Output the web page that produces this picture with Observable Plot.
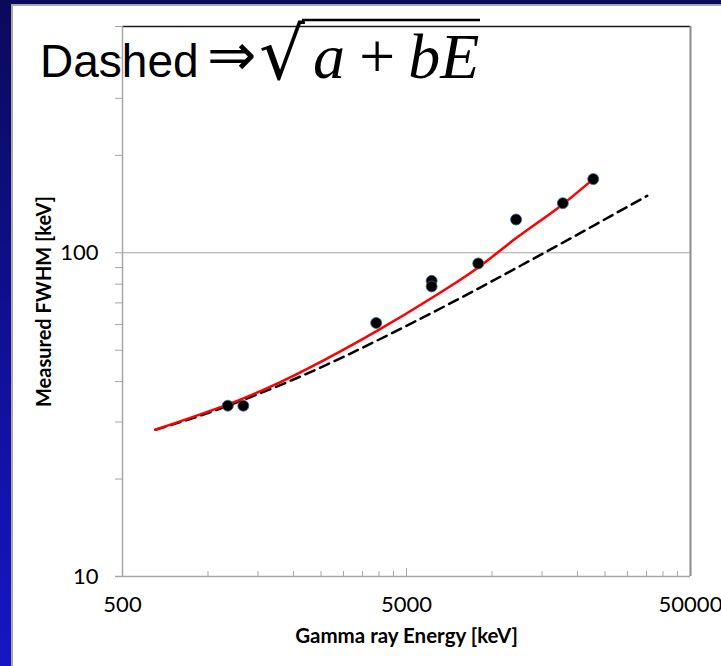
<!DOCTYPE html>
<html>
<head>
<meta charset="utf-8">
<script src="https://cdn.jsdelivr.net/npm/d3@7"></script>
<script src="https://cdn.jsdelivr.net/npm/@observablehq/plot@0.6"></script>
<style>
  html, body { margin: 0; padding: 0; }
  body { width: 721px; height: 666px; overflow: hidden;
         background: linear-gradient(to bottom, #0a0a5a 0%, #10109a 55%, #1616c6 100%); }
  #slide { position: relative; width: 721px; height: 666px; }
  #panel { position: absolute; left: 11px; top: 4px; right: 0; bottom: 0;
           background: #fff; border-left: 2px solid #a8a8a8; border-top: 2px solid #a8a8a8; }
  #chart { position: absolute; left: 0; top: 0; }
  #formula { position: absolute; left: 0; top: 0; pointer-events: none; }
</style>
</head>
<body>
<div id="slide">
  <div id="panel"></div>
  <div id="chart"></div>
  <svg id="formula" width="721" height="666">
    <text x="40" y="77" font-family="Liberation Sans, Arial, sans-serif" font-size="46">Dashed</text>
    <text x="207" y="75" font-family="DejaVu Sans, sans-serif" font-size="59">⇒</text>
    <text x="259" y="79" font-family="DejaVu Serif, serif" font-size="72">√</text>
    <line x1="302" x2="480" y1="20" y2="20" stroke="#000" stroke-width="2.5"></line>
    <text x="313" y="78" font-family="Liberation Serif, serif" font-style="italic" font-size="64" word-spacing="-6">a + bE</text>
  </svg>
</div>
<script>
// Measured peak widths (FWHM) at each gamma-ray energy
const energy = [1174, 1332, 3910, 6130, 6130, 8945, 12160, 17760, 22720];
const fwhm   = [33.7, 33.7, 60.7, 81.9, 78.7, 92.7, 126.7, 142.3, 168.9];

// Red fitted curve
const fitEnergy = [653, 1174, 1332, 3910, 6130, 8945, 12160, 17760, 22720];
const fitFwhm   = [28.4, 34.0, 35.5, 57.2, 72.5, 90.1, 111.0, 141.3, 168.9];

// Dashed curve, sqrt(a + bE)
const sqrtEnergy = [653, 1000, 1500, 2000, 3000, 5000, 7000, 10000, 15000, 20000, 25000, 30000, 35200];
const sqrtFwhm   = [28.4, 32.0, 36.6, 40.6, 47.7, 59.5, 69.2, 81.7, 99.1, 113.8, 126.9, 138.7, 150.0];

// Axis ticks
const xLabels = [500, 5000, 50000];
const xMinor  = [1000, 1500, 2000, 2500, 3000, 3500, 4000, 4500,
                 10000, 15000, 20000, 25000, 30000, 35000, 40000, 45000];
const xMid    = [5000];
const yLabels = [10, 100];
const yMinor  = [20, 30, 40, 50, 60, 70, 80, 90, 200, 300, 400, 500];

const points = energy.map((e, i) => ({e, f: fwhm[i]}));
const fit = fitEnergy.map((e, i) => ({e, f: fitFwhm[i]}));
const sqrtCurve = sqrtEnergy.map((e, i) => ({e, f: sqrtFwhm[i]}));

const axisGray = "#a6a6a6";

const chart = Plot.plot({
  width: 721,
  height: 666,
  marginLeft: 122,
  marginRight: 31,
  marginTop: 26,
  marginBottom: 90,
  x: {type: "log", domain: [500, 50000]},
  y: {type: "log", domain: [10, 500]},
  style: {background: "transparent", fontFamily: "Lato, 'Open Sans', sans-serif", overflow: "visible"},
  marks: [
    // grid line and frame
    Plot.ruleY([100], {stroke: axisGray, strokeWidth: 1}),
    Plot.ruleY([500], {stroke: "#1a1a1a", strokeWidth: 1.5}),
    Plot.ruleX([50000], {stroke: "#8c8c8c", strokeWidth: 2}),
    Plot.ruleX([500], {stroke: axisGray, strokeWidth: 1.5}),
    Plot.ruleY([10], {stroke: axisGray, strokeWidth: 1.5, x1: 500, x2: 50000, insetLeft: -7}),

    // y axis
    Plot.axisY(yMinor, {tickSize: 7, tickFormat: () => "", stroke: axisGray, label: null}),
    Plot.axisY(yLabels, {tickSize: 7, tickPadding: 17, fontSize: 22, fill: "#000",
                         stroke: axisGray, tickFormat: d => String(d), label: null}),

    // x axis: inward minor ticks, a longer one at 5000, labels below
    Plot.axisX(xMinor, {tickSize: 5, dy: -5, tickFormat: () => "", stroke: axisGray, label: null}),
    Plot.axisX(xMid, {tickSize: 8, dy: -8, tickFormat: () => "", stroke: axisGray, label: null}),
    Plot.text(xLabels, {x: d => d, text: d => String(d), frameAnchor: "bottom", dy: 35,
                        fontSize: 22, fill: "#000"}),

    // axis titles
    Plot.text(["Measured FWHM [keV]"], {frameAnchor: "left", dx: -78, rotate: -90, textAnchor: "middle",
                                         fontSize: 20, fontWeight: "bold", fill: "#000"}),
    Plot.text(["Gamma ray Energy [keV]"], {frameAnchor: "bottom", dy: 66, textAnchor: "middle",
                                            fontSize: 20.5, fontWeight: "bold", fill: "#000"}),

    // curves and measurements
    Plot.line(sqrtCurve, {x: "e", y: "f", stroke: "#000", strokeWidth: 2.5,
                          strokeDasharray: "10,6", curve: "monotone-x"}),
    Plot.line(fit, {x: "e", y: "f", stroke: "#ff0000", strokeWidth: 2.5, curve: "monotone-x"}),
    Plot.dot(points, {x: "e", y: "f", r: 5.5, fill: "#000", stroke: "#3d6491", strokeWidth: 0.8})
  ]
});

document.getElementById("chart").appendChild(chart);
</script>
</body>
</html>
